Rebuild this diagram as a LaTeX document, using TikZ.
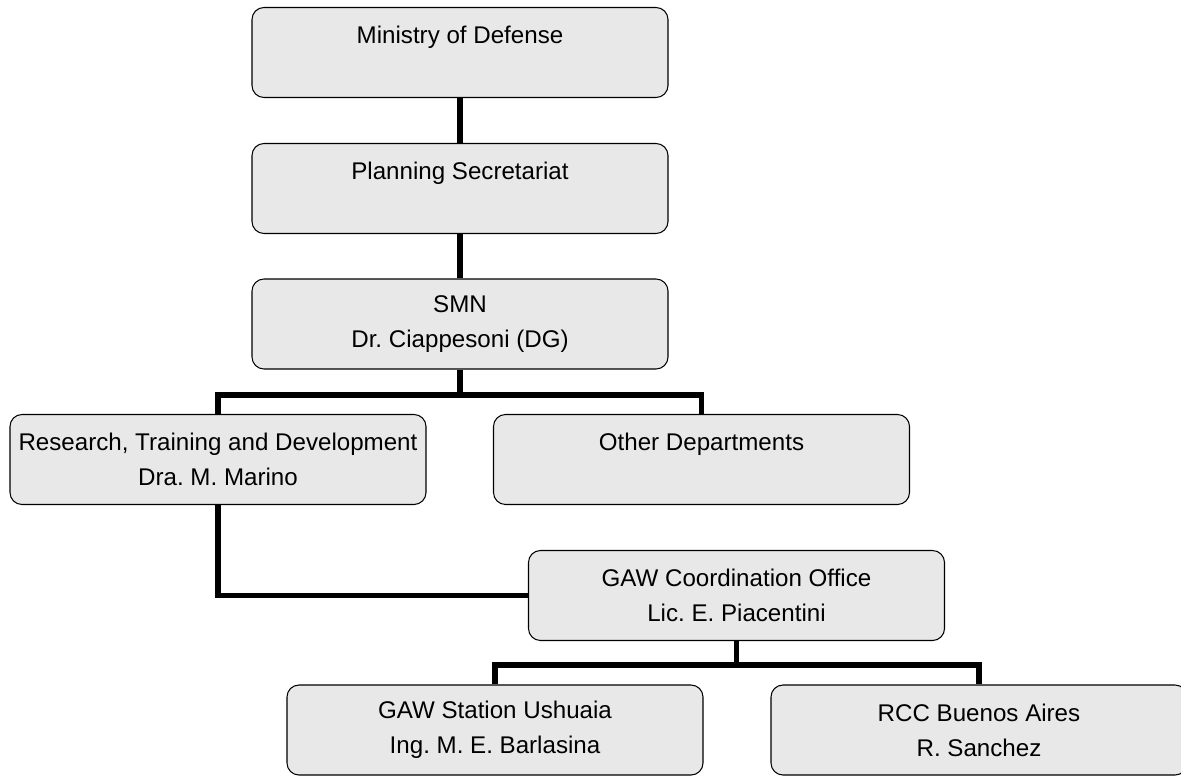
\documentclass[tikz,border=0pt]{standalone}
\usepackage{fontspec}
\setmainfont{Liberation Sans}
\frenchspacing
\begin{document}
\begin{tikzpicture}[x=0.03cm,y=-0.03cm,
  box/.style={draw=black,line width=0.9pt,fill=boxgray,rounded corners=0.36cm,
    minimum width=12.48cm,minimum height=2.7cm,align=center,inner sep=0pt,
    font=\fontsize{20.6}{30}\selectfont},
  conn/.style={line width=4.3pt,black}]

\definecolor{boxgray}{gray}{0.91}
\useasboundingbox (0,0) rectangle (1181,776);

% boxes
\node[box] (mod) at (460,52.5) {Ministry of Defense\\ \mbox{}};
\node[box] (plan) at (460,188.5) {Planning Secretariat\\ \mbox{}};
\node[box] (smn) at (460,324) {SMN\\ Dr. Ciappesoni (DG)};
\node[box] (rtd) at (218,459.5) {Research, Training and Development\\ Dra. M. Marino};
\node[box] (other) at (701.5,459.5) {Other Departments\\ \mbox{}};
\node[box] (gaw) at (736.5,595.5) {GAW Coordination Office\\ Lic. E. Piacentini};
\node[box] (ush) at (495,730) {GAW Station Ushuaia\\ Ing. M. E. Barlasina};
\node[box] (rcc) at (979,730) {RCC Buenos Aires\\ R. Sanchez};

% split points
\coordinate (split1) at (460,395);
\coordinate (split2) at (736.5,665);

% connectors
\draw[conn] (mod) -- (plan);
\draw[conn] (plan) -- (smn);
\draw[conn] (smn.south) -- (split1);
\draw[conn] (rtd.north) |- (split1) -| (other.north);
\draw[conn] (rtd.south) |- (gaw.west);
\draw[conn] (gaw.south) -- (split2);
\draw[conn] (ush.north) |- (split2) -| (rcc.north);
\end{tikzpicture}
\end{document}
